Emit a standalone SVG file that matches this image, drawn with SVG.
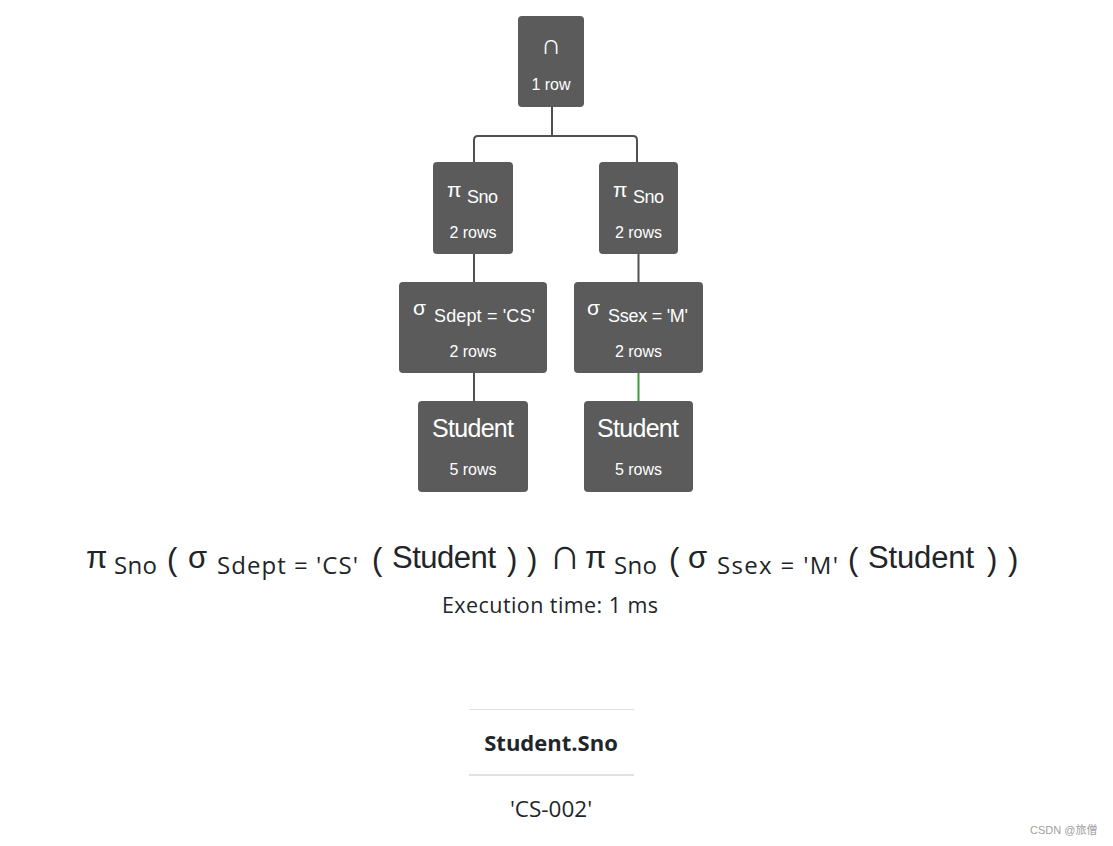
<svg xmlns="http://www.w3.org/2000/svg" width="1113" height="846" viewBox="0 0 1113 846">
<style>
.node{fill:#5b5b5b;}
.nt{fill:#ffffff;font-family:"Liberation Sans",Arial,sans-serif;}
.ex{fill:#212529;font-family:"Liberation Sans",Arial,sans-serif;font-size:31px;}
.sub{fill:#212529;font-family:"Open Sans","Noto Sans",sans-serif;font-size:24px;}
.conn{fill:none;stroke:#505050;stroke-width:2;}
.ui{fill:#212529;font-family:"Open Sans","Noto Sans",sans-serif;}
</style>
<rect width="1113" height="846" fill="#ffffff"/>
<g id="connectors">
<path class="conn" d="M552,107 V136 M474,162 V140 Q474,136 478,136 H633 Q637,136 637,140 V162"/>
<path class="conn" d="M474,254 V282"/>
<path class="conn" d="M474,373 V401"/>
<path class="conn" d="M638.5,254 V282"/>
<path class="conn" d="M638.5,373 V401" style="stroke:#3c9a3c"/>
</g>
<g id="n-intersect">
<rect class="node" x="518" y="16" width="66" height="91" rx="4"/>
<text class="nt" x="551" y="54" font-size="28" text-anchor="middle">∩</text>
<text class="nt" x="551" y="90" font-size="16" text-anchor="middle">1 row</text>
</g>
<g id="n-proj-left">
<rect class="node" x="433" y="162" width="80" height="92" rx="4"/>
<text class="nt" x="447" y="197" font-size="21">π</text>
<text class="nt" x="467" y="203" font-size="18" textLength="31">Sno</text>
<text class="nt" x="473" y="238" font-size="16" text-anchor="middle">2 rows</text>
</g>
<g id="n-proj-right">
<rect class="node" x="599" y="162" width="79" height="92" rx="4"/>
<text class="nt" x="613" y="197" font-size="21">π</text>
<text class="nt" x="633" y="203" font-size="18" textLength="31">Sno</text>
<text class="nt" x="638.5" y="238" font-size="16" text-anchor="middle">2 rows</text>
</g>
<g id="n-sel-left">
<rect class="node" x="399" y="282" width="148" height="91" rx="4"/>
<text class="nt" x="413" y="315" font-size="21">σ</text>
<text class="nt" x="434" y="322" font-size="18" textLength="101">Sdept = 'CS'</text>
<text class="nt" x="473" y="357" font-size="16" text-anchor="middle">2 rows</text>
</g>
<g id="n-sel-right">
<rect class="node" x="574" y="282" width="129" height="91" rx="4"/>
<text class="nt" x="587" y="315" font-size="21">σ</text>
<text class="nt" x="608" y="322" font-size="18" textLength="80">Ssex = 'M'</text>
<text class="nt" x="638.5" y="357" font-size="16" text-anchor="middle">2 rows</text>
</g>
<g id="n-student-left">
<rect class="node" x="418" y="401" width="110" height="91" rx="4"/>
<text class="nt" x="432" y="437" font-size="25" textLength="82">Student</text>
<text class="nt" x="473" y="475" font-size="16" text-anchor="middle">5 rows</text>
</g>
<g id="n-student-right">
<rect class="node" x="584" y="401" width="109" height="91" rx="4"/>
<text class="nt" x="597" y="437" font-size="25" textLength="82">Student</text>
<text class="nt" x="638.5" y="475" font-size="16" text-anchor="middle">5 rows</text>
</g>
<g id="expression">
<text class="ex" x="86" y="568">π</text>
<text class="sub" x="114" y="574" textLength="43">Sno</text>
<text class="ex" x="167" y="570">(</text>
<text class="ex" x="188" y="568">σ</text>
<text class="sub" x="217" y="574" textLength="141">Sdept = 'CS'</text>
<text class="ex" x="372" y="570">(</text>
<text class="ex" x="392" y="568" textLength="104">Student</text>
<text class="ex" x="507" y="570">)</text>
<text class="ex" x="527" y="570">)</text>
<text class="ex" x="549" y="569" style="font-size:44px">∩</text>
<text class="ex" x="585" y="568">π</text>
<text class="sub" x="614" y="574" textLength="43">Sno</text>
<text class="ex" x="669" y="570">(</text>
<text class="ex" x="688" y="568">σ</text>
<text class="sub" x="717" y="574" textLength="121">Ssex = 'M'</text>
<text class="ex" x="848" y="570">(</text>
<text class="ex" x="868" y="568" textLength="106">Student</text>
<text class="ex" x="987" y="570">)</text>
<text class="ex" x="1008" y="570">)</text>
</g>
<text class="ui" x="442" y="613" font-size="21.5" textLength="216">Execution time: 1 ms</text>
<g id="result-table">
<line x1="469" y1="709.5" x2="634" y2="709.5" stroke="#dee2e6" stroke-width="1"/>
<text class="ui" x="551" y="751" font-size="22" font-weight="bold" text-anchor="middle">Student.Sno</text>
<line x1="469" y1="775" x2="634" y2="775" stroke="#dee2e6" stroke-width="2"/>
<text class="ui" x="551" y="817" font-size="22.5" text-anchor="middle">'CS-002'</text>
</g>
<text x="1030" y="834" font-size="11" fill="#a0a0a0" font-family="'Liberation Sans','Noto Sans CJK SC',sans-serif">CSDN @旅僧</text>
</svg>
